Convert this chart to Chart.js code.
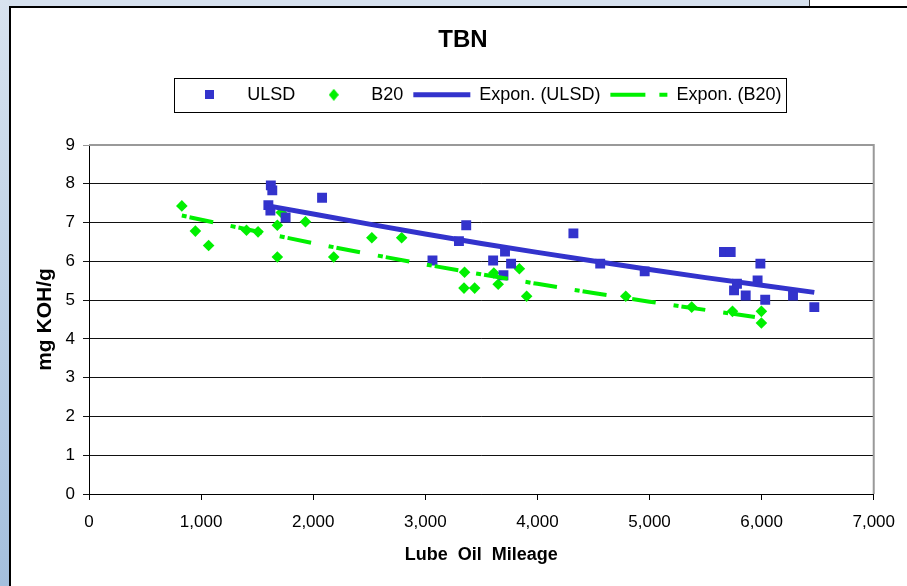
<!DOCTYPE html>
<html>
<head>
<meta charset="utf-8">
<script src="https://cdn.jsdelivr.net/npm/chart.js@4.4.1/dist/chart.umd.min.js"></script>
<style>
  body { margin:0; width:907px; height:586px; overflow:hidden; background:#d6e1ee; position:relative; }
  #strip { position:absolute; left:0; top:0; width:9px; height:586px; background:linear-gradient(#d8e3ef, #a4bfdd); }
  #topright { position:absolute; left:809px; top:0; width:98px; height:6px; background:#fff; border-left:1px solid #333; }
  #box { position:absolute; left:9px; top:6px; width:898px; height:580px; background:#fff; border-left:2px solid #000; border-top:2px solid #000; box-sizing:border-box; }
  #wrap { position:absolute; left:11px; top:8px; width:896px; height:578px; }
</style>
</head>
<body>
<div id="strip"></div>
<div id="topright"></div>
<div id="box"></div>
<div id="wrap"><canvas id="grafica"></canvas></div>
<script>
// valores
const ulsdMiles = [1600, 1618, 1622, 1635, 1754, 2079, 3064, 3300, 3365, 3605, 3697, 3711, 3765, 4321, 4560, 4957, 5664, 5724, 5754, 5780, 5858, 5964, 5989, 6032, 6280, 6470];
const ulsdTbn   = [7.45, 7.31, 7.96, 7.83, 7.13, 7.64, 6.02, 6.52, 6.93, 6.02, 5.64, 6.25, 5.94, 6.72, 5.94, 5.74, 6.24, 6.24, 5.25, 5.42, 5.12, 5.51, 5.94, 5.01, 5.12, 4.82];

const b20Miles = [828, 949, 1067, 1405, 1508, 1680, 1715, 1680, 1931, 2183, 2523, 2789, 3350, 3345, 3440, 3611, 3650, 3839, 3904, 4788, 5376, 5740, 5998, 5998];
const b20Tbn   = [7.43, 6.78, 6.41, 6.80, 6.76, 6.93, 7.26, 6.11, 7.02, 6.11, 6.61, 6.61, 5.72, 5.31, 5.31, 5.70, 5.41, 5.81, 5.10, 5.10, 4.82, 4.71, 4.71, 4.41];

// lineas de tendencia (exponencial), puntos leidos sobre la linea
const ulsdTrendMiles = [1600, 2500, 3500, 4500, 5500, 6470];
const ulsdTrendTbn   = [7.43, 6.96, 6.46, 6.01, 5.58, 5.20];
const b20TrendMiles  = [828, 2000, 3000, 4000, 5000, 5998];
const b20TrendTbn    = [7.18, 6.47, 5.92, 5.42, 4.96, 4.54];

const seriesNames = ['ULSD', 'B20', 'Expon. (ULSD)', 'Expon. (B20)'];
const xTicks = [0, 1000, 2000, 3000, 4000, 5000, 6000, 7000];
const yTicks = [0, 1, 2, 3, 4, 5, 6, 7, 8, 9];

const BLUE = '#3333cc';
const GREEN = '#00f000';
const FONT = "'Liberation Sans', Arial, sans-serif";

function pares(xs, ys) {
    return xs.map((x, i) => ({ x: x, y: ys[i] }));
}

// iconos pequeños para la leyenda (cuadro y rombo)
function icono(tipo, color) {
    const c = document.createElement('canvas');
    c.width = tipo === 'rect' ? 9 : 10;
    c.height = tipo === 'rect' ? 9 : 12;
    const g = c.getContext('2d');
    g.fillStyle = color;
    if (tipo === 'rect') {
        g.fillRect(0, 0, 9, 9);
    } else {
        g.beginPath();
        g.moveTo(5, 0); g.lineTo(10, 6); g.lineTo(5, 12); g.lineTo(0, 6);
        g.closePath();
        g.fill();
    }
    return c;
}

const marcoLeyenda = {
    id: 'marcoLeyenda',
    afterDraw(chart) {
        const hb = chart.legend.legendHitBoxes;
        if (!hb || !hb.length) return;
        const left = Math.min(...hb.map(h => h.left)) - 7;
        const right = Math.max(...hb.map(h => h.left + h.width)) + 5;
        const top = Math.min(...hb.map(h => h.top)) - 8;
        const bottom = Math.max(...hb.map(h => h.top + h.height)) + 8;
        const ctx = chart.ctx;
        ctx.save();
        ctx.strokeStyle = '#000';
        ctx.lineWidth = 1;
        ctx.strokeRect(Math.round(left) + 0.5, Math.round(top) + 0.5, Math.round(right - left), Math.round(bottom - top));
        ctx.restore();
    }
};

const marcoGrafico = {
    id: 'marcoGrafico',
    beforeDatasetsDraw(chart) {
        const a = chart.chartArea;
        const ctx = chart.ctx;
        ctx.save();
        ctx.strokeStyle = '#999';
        ctx.lineWidth = 2;
        ctx.beginPath();
        ctx.moveTo(a.left, a.top);
        ctx.lineTo(a.right, a.top);
        ctx.lineTo(a.right, a.bottom);
        ctx.stroke();
        ctx.restore();
    }
};

const ctx = document.getElementById('grafica').getContext('2d');
new Chart(ctx, {
    type: 'scatter',
    data: {
        datasets: [
            { label: seriesNames[0], data: pares(ulsdMiles, ulsdTbn), pointStyle: 'rect', pointRadius: 7, pointHoverRadius: 7,
              backgroundColor: BLUE, borderColor: BLUE, borderWidth: 0, order: 2, icon: icono('rect', BLUE) },
            { label: seriesNames[1], data: pares(b20Miles, b20Tbn), pointStyle: 'rectRot', pointRadius: 5.8, pointHoverRadius: 5.8,
              backgroundColor: GREEN, borderColor: GREEN, borderWidth: 0, order: 2, icon: icono('rectRot', GREEN) },
            { label: seriesNames[2], data: pares(ulsdTrendMiles, ulsdTrendTbn), showLine: true, pointRadius: 0, tension: 0.3,
              borderColor: BLUE, backgroundColor: BLUE, borderWidth: 5, legendLine: true, order: 1 },
            { label: seriesNames[3], data: pares(b20TrendMiles, b20TrendTbn), showLine: true, pointRadius: 0, tension: 0.3,
              borderColor: GREEN, backgroundColor: GREEN, borderWidth: 4, borderDash: [5, 3, 24, 18],
              legendDash: [35, 14, 8, 100], legendLine: true, order: 1 }
        ]
    },
    options: {
        responsive: true,
        maintainAspectRatio: false,
        animation: false,
        layout: { padding: { left: 8, right: 0, top: 0, bottom: 0 } },
        plugins: {
            title: {
                display: true, text: 'TBN', color: '#000',
                font: { family: FONT, size: 24, weight: 'bold' },
                padding: { top: 18, bottom: 21 }
            },
            legend: {
                display: true, position: 'top', fullSize: false,
                labels: {
                    color: '#000', font: { family: FONT, size: 18 },
                    usePointStyle: true, pointStyleWidth: 57, boxWidth: 57, boxHeight: 9, padding: 10,
                    generateLabels(chart) {
                        return chart.data.datasets.map((ds, i) => ({
                            text: ds.label, datasetIndex: i, hidden: false, fontColor: '#000',
                            fillStyle: ds.backgroundColor, strokeStyle: ds.borderColor,
                            lineWidth: ds.legendLine ? ds.borderWidth : 0,
                            lineDash: ds.legendDash || [],
                            pointStyle: ds.legendLine ? 'line' : ds.icon
                        }));
                    }
                }
            },
            subtitle: {
                display: true, text: '', fullSize: false, position: 'top', weight: 500,
                font: { size: 1 }, padding: { top: 0, bottom: 30 }
            },
            tooltip: { enabled: false }
        },
        scales: {
            x: {
                type: 'linear', min: 0, max: 7000,
                afterBuildTicks: s => { s.ticks = xTicks.map(v => ({ value: v })); },
                afterFit: s => { s.height = 92; },
                ticks: {
                    color: '#000', font: { family: FONT, size: 17 }, padding: 12,
                    callback: v => String(v).replace(/\B(?=(\d{3})+(?!\d))/g, ',')
                },
                grid: { drawOnChartArea: false, drawTicks: true, tickLength: 6, color: '#000' },
                border: { color: '#000', width: 1 },
                title: { display: true, text: 'Lube  Oil  Mileage', color: '#000',
                         font: { family: FONT, size: 18, weight: 'bold' }, padding: { top: 0, bottom: 20 } }
            },
            y: {
                type: 'linear', min: 0, max: 9,
                afterBuildTicks: s => { s.ticks = yTicks.map(v => ({ value: v })); },
                afterFit: s => { s.width = 70; },
                ticks: { color: '#000', font: { family: FONT, size: 17 }, padding: 8 },
                grid: { color: c => (c.tick && c.tick.value === 9) ? '#999' : '#111', lineWidth: 1, drawTicks: true, tickLength: 6 },
                border: { color: '#000', width: 1 },
                title: { display: true, text: 'mg KOH/g', color: '#000',
                         font: { family: FONT, size: 21, weight: 'bold' }, padding: { top: 14, bottom: 0 } }
            },
            derecha: {
                type: 'linear', position: 'right', display: true,
                afterFit: s => { s.width = 29; },
                ticks: { display: false },
                grid: { display: false, drawTicks: false },
                border: { display: false }
            }
        }
    },
    plugins: [marcoLeyenda, marcoGrafico]
});
</script>
</body>
</html>
